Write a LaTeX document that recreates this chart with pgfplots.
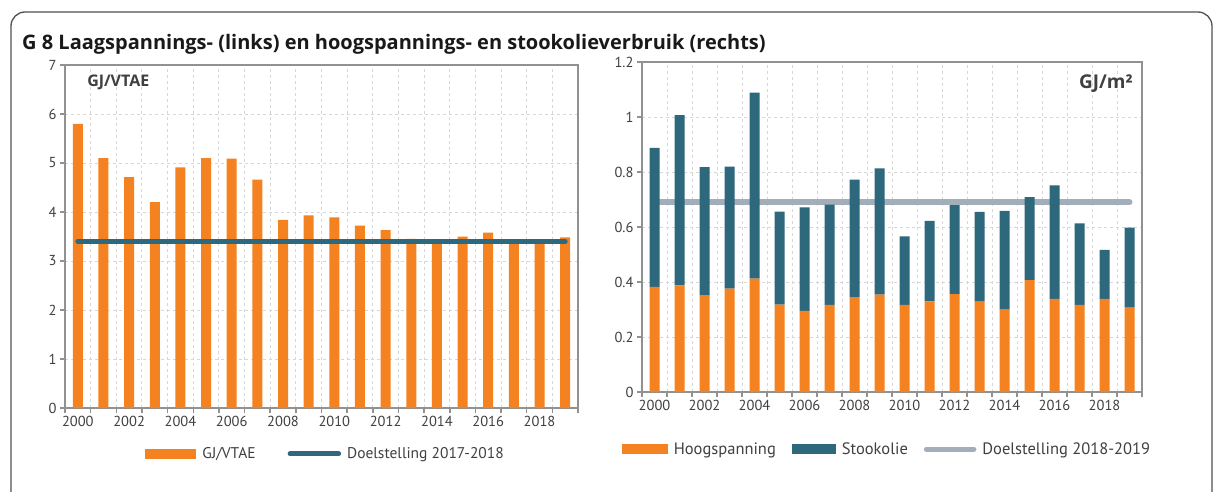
\documentclass[border=0pt]{standalone}
\usepackage{fontspec}
\setmainfont{PT Sans}
\newfontfamily\titlefont{Open Sans}
\usepackage{pgfplots}
\pgfplotsset{compat=1.18}
\definecolor{orng}{RGB}{245,130,32}
\definecolor{teal2}{RGB}{46,104,125}
\definecolor{lgray}{RGB}{163,174,187}
\definecolor{axgray}{RGB}{145,145,145}
\definecolor{gridgray}{RGB}{215,215,215}
\definecolor{txt}{RGB}{64,64,64}
\definecolor{framec}{RGB}{80,80,80}

\pgfplotsset{
 mystyle/.style={
  scale only axis,
  axis line style={axgray, line width=2.5pt},
  xmin=-0.5, xmax=19.5,
  xtick={0,2,4,6,8,10,12,14,16,18},
  xticklabels={2000,2002,2004,2006,2008,2010,2012,2014,2016,2018},
  minor xtick={-0.5,0.5,...,19.5},
  xminorgrids=true, xmajorgrids=false, ymajorgrids=true,
  grid style={gridgray, dashed, line width=1pt},
  minor grid style={gridgray, dashed, line width=1pt},
  major x tick style={draw=none},
  tick align=outside,
  tick pos=left,
  tick style={axgray, line width=1.5pt},
  major tick length=5pt,
  minor tick length=5pt,
  ticklabel style={font=\fontsize{14.5}{16}\selectfont, text=txt},
  /pgf/number format/assume math mode=true,
  legend columns=-1,
  legend cell align=left,
  legend style={draw=none, fill=none, text=txt,
    /tikz/every odd column/.append style={column sep=4pt}},
 }
}

\begin{document}
\begin{tikzpicture}[x=1pt,y=1pt]
\useasboundingbox (0,0) rectangle (1215,491);
\fill[white] (0,0) rectangle (1215,491);
\draw[framec, line width=1.3pt, rounded corners=14pt] (11,-30) -- (11,479) -- (1212,479) -- (1212,-30);
\node[anchor=base west, inner sep=0pt, text=black!90] at (22,441) {\titlefont\fontsize{20}{22}\selectfont\bfseries G 8 Laagspannings- (links) en hoogspannings- en stookolieverbruik (rechts)};

% left chart
\begin{axis}[mystyle,
  at={(65pt,83pt)}, anchor=south west,
  width=513pt, height=343pt,
  ymin=0, ymax=7, ytick={0,1,...,7},
  legend style={at={(0.508,-0.134)}, anchor=center, font=\fontsize{15.5}{18}\selectfont,
    /tikz/every even column/.append style={column sep=30pt}},
]
\addplot[ybar, bar width=10pt, bar shift=0pt, fill=orng, draw=none,
  legend image code/.code={\fill[orng] (0pt,-5pt) rectangle (51pt,5pt);}]
 coordinates {(0,5.80) (1,5.10) (2,4.71) (3,4.20) (4,4.91) (5,5.10) (6,5.09) (7,4.66) (8,3.84) (9,3.93)
  (10,3.89) (11,3.72) (12,3.63) (13,3.45) (14,3.42) (15,3.50) (16,3.58) (17,3.38) (18,3.40) (19,3.48)};
\addlegendentry{GJ/VTAE}
\addplot[sharp plot, teal2, line width=5pt, line cap=round, mark=none,
  legend image code/.code={\draw[teal2, line width=5pt, line cap=round] (2.5pt,0) -- (51pt,0);}]
 coordinates {(0,3.4) (19,3.4)};
\addlegendentry{Doelstelling 2017-2018}
\node[anchor=west, inner sep=0pt, text=txt] at (rel axis cs:0.043,0.948) {\titlefont\fontsize{16}{18}\selectfont\bfseries GJ/VTAE};
\end{axis}

% right chart
\begin{axis}[mystyle,
  at={(642pt,99pt)}, anchor=south west,
  width=500pt, height=330pt,
  ymin=0, ymax=1.2, ytick={0,0.2,...,1.2},
  ybar stacked, bar width=10pt,
  legend style={at={(0.49,-0.173)}, anchor=center, font=\fontsize{16.5}{19}\selectfont,
    /tikz/every even column/.append style={column sep=14pt}},
]
\addplot[fill=orng, draw=none,
  legend image code/.code={\fill[orng] (0pt,-5pt) rectangle (46pt,5pt);}]
 coordinates {(0,0.382) (1,0.388) (2,0.352) (3,0.376) (4,0.412) (5,0.318) (6,0.295) (7,0.317) (8,0.345) (9,0.354)
  (10,0.317) (11,0.330) (12,0.356) (13,0.329) (14,0.300) (15,0.407) (16,0.339) (17,0.317) (18,0.339) (19,0.307)};
\addlegendentry{Hoogspanning}
\addplot[fill=teal2, draw=none,
  legend image code/.code={\fill[teal2] (0pt,-5pt) rectangle (44pt,5pt);}]
 coordinates {(0,0.506) (1,0.619) (2,0.466) (3,0.444) (4,0.677) (5,0.338) (6,0.376) (7,0.364) (8,0.427) (9,0.459)
  (10,0.249) (11,0.292) (12,0.324) (13,0.326) (14,0.359) (15,0.302) (16,0.412) (17,0.296) (18,0.178) (19,0.291)};
\addlegendentry{Stookolie}
\addplot[stack plots=false, sharp plot, lgray, line width=6pt, line cap=round, mark=none,
  legend image code/.code={\draw[lgray, line width=5pt, line cap=round] (2.5pt,0) -- (50pt,0);}]
 coordinates {(0,0.69) (19,0.69)};
\addlegendentry{Doelstelling 2018-2019}
\node[anchor=east, inner sep=0pt, text=txt] at (rel axis cs:0.982,0.936) {\titlefont\fontsize{19}{21}\selectfont\bfseries GJ/m²};
\end{axis}
\end{tikzpicture}
\end{document}
